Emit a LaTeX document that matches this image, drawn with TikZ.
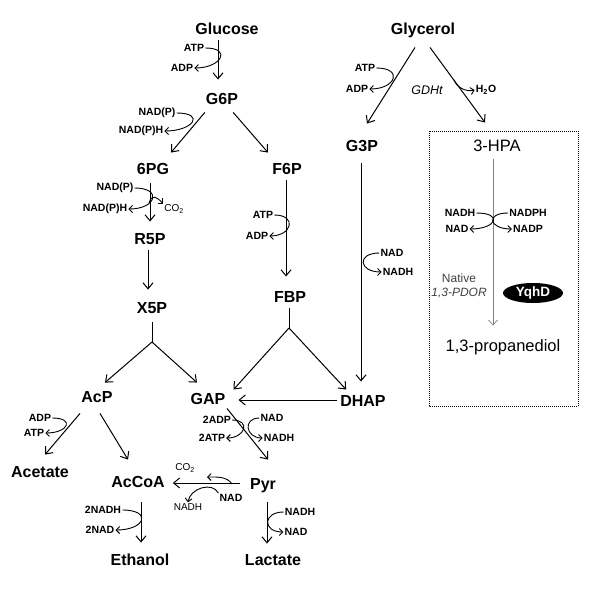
\documentclass[tikz,border=0pt]{standalone}
\usepackage{fontspec}
\setmainfont{Liberation Sans}
\usetikzlibrary{arrows.meta,shapes.geometric}
\def\metsize{\fontsize{16}{16}\selectfont}
\def\cofsize{\fontsize{10.5}{11}\selectfont}
\tikzset{
  met/.style={font=\metsize\bfseries, inner sep=1pt, text height=11.5pt, text depth=3pt},
  prod/.style={font=\fontsize{16.5}{17}\selectfont, inner sep=1pt, text height=11.5pt, text depth=3pt},
  cof/.style={font=\cofsize\bfseries, inner sep=1pt},
  cofreg/.style={font=\fontsize{10}{10}\selectfont, inner sep=1pt},
  flux/.style={-{Straight Barb[length=6pt,width=10pt]}, line width=1pt},
  trunk/.style={line width=1pt},
  side/.style={-{Straight Barb[length=3.5pt,width=7pt]}, line width=0.9pt},
}

\begin{document}
\begin{tikzpicture}[x=1pt,y=-1pt]
\useasboundingbox (0,0) rectangle (600,602);
\node [met] (glucose) at (227,30) {Glucose};
\node [met] (g6p) at (222,100) {G6P};
\node [met] (pg6) at (153,170) {6PG};
\node [met] (f6p) at (287,170) {F6P};
\node [met] (r5p) at (150,240) {R5P};
\node [met] (x5p) at (152,309) {X5P};
\node [met] (fbp) at (290,298) {FBP};
\node [met] (glycerol) at (423,30) {Glycerol};
\node [met] (g3p) at (362,147) {G3P};
\node [met] (gap) at (208,400) {GAP};
\node [met] (dhap) at (363,402) {DHAP};
\node [met] (acp) at (97,398) {AcP};
\node [met] (acetate) at (40,473) {Acetate};
\node [met] (accoa) at (138,483) {AcCoA};
\node [met] (pyr) at (263,485) {Pyr};
\node [met] (ethanol) at (140,561) {Ethanol};
\node [met] (lactate) at (273,561) {Lactate};
\node [prod] (hpa) at (497,147) {3-HPA};
\node [prod] (pdo) at (503,347) {1,3-propanediol};

\node [cof] (atp1) at (194,48) {ATP};
\node [cof] (adp1) at (182,68) {ADP};
\node [cof] (nadp1) at (157,113) {NAD(P)};
\node [cof] (nadph1) at (141,131) {NAD(P)H};
\node [cof] (nadp2) at (115,188) {NAD(P)};
\node [cof] (nadph2) at (105,209) {NAD(P)H};
\node [cofreg] (co2a) at (174,209) {CO\textsubscript{2}};
\node [cof] (atp2) at (263,215) {ATP};
\node [cof] (adp2) at (257,236) {ADP};
\node [cof] (atp3) at (365,68) {ATP};
\node [cof] (adp3) at (357,89) {ADP};
\node [font=\fontsize{12.5}{13}\selectfont\itshape] (gdht) at (427,90) {GDHt};
\node [cof] (h2o) at (486,90) {H\textsubscript{2}O};
\node [cof] (nad3) at (392,253) {NAD};
\node [cof] (nadh3) at (398,272) {NADH};
\node [cof] (nadh4) at (460,213) {NADH};
\node [cof] (nad4) at (457,229) {NAD};
\node [cof] (nadph4) at (528,213) {NADPH};
\node [cof] (nadp4) at (528,229) {NADP};
\node [font=\fontsize{12}{12}\selectfont, text=black!75] (native) at (459,278) {Native};
\node [font=\fontsize{12}{12}\selectfont\itshape, text=black!75] (pdor) at (459,293) {1,3-PDOR};
\node [ellipse, fill=black, text=white, font=\fontsize{13.5}{14}\selectfont\bfseries, minimum width=60pt, minimum height=20pt, inner sep=0pt] (yqhd) at (533,293) {YqhD};
\node [cof] (adp5) at (40,418) {ADP};
\node [cof] (atp5) at (34,433) {ATP};
\node [cof] (adp6) at (217,420) {2ADP};
\node [cof] (atp6) at (212,438) {2ATP};
\node [cof] (nad6) at (272,418) {NAD};
\node [cof] (nadh6) at (279,438) {NADH};
\node [cofreg] (co2b) at (185,468) {CO\textsubscript{2}};
\node [cof] (nad7) at (231,498) {NAD};
\node [cofreg] (nadh7) at (188,507) {NADH};
\node [cof] (nadh8) at (103,510) {2NADH};
\node [cof] (nad8) at (100,530) {2NAD};
\node [cof] (nadh9) at (300,512) {NADH};
\node [cof] (nad9) at (296,532) {NAD};

\coordinate (xsplit) at (152,342);
\coordinate (fsplit) at (289,328);
\coordinate (co2tail1) at (149,203);
\coordinate (h2otail) at (454,80);
\coordinate (co2tail2) at (232,484);
\coordinate (co2tip2) at (207,477);

\draw [densely dotted, line width=1pt] (429,131) rectangle (578,406);

\draw [flux] ([shift={(-9,2)}]glucose.south) -- ([shift={(-4,-12)}]g6p.north);
\draw [flux] ([shift={(0,4)}]g6p.south west) -- ([shift={(18,-9)}]pg6.north);
\draw [flux] ([shift={(-6,4)}]g6p.south east) -- ([shift={(-19,-9)}]f6p.north);
\draw [flux] ([shift={(-3,5)}]pg6.south) -- ([shift={(0,-10)}]r5p.north);
\draw [flux] ([shift={(-2,2)}]r5p.south) -- ([shift={(-4,-11)}]x5p.north);
\draw [trunk] ([shift={(0,5)}]x5p.south) -- (xsplit);
\draw [flux] (xsplit) -- ([shift={(8,-7)}]acp.north);
\draw [flux] (xsplit) -- ([shift={(-11,-9)}]gap.north);
\draw [flux] ([shift={(-1,2)}]f6p.south) -- ([shift={(-4,-13)}]fbp.north);
\draw [trunk] ([shift={(-1,2)}]fbp.south) -- (fsplit);
\draw [flux] (fsplit) -- ([shift={(7,-2)}]gap.north east);
\draw [flux] (fsplit) -- ([shift={(7,-4)}]dhap.north west);
\draw [flux] ([shift={(-8,9)}]glycerol.south) -- ([shift={(5,-15)}]g3p.north);
\draw [flux] ([shift={(7,9)}]glycerol.south) -- ([shift={(-12,-16)}]hpa.north);
\draw [flux] ([shift={(-1,8)}]g3p.south) -- ([shift={(-2,-12)}]dhap.north);
\draw [flux] ([shift={(-2,-2)}]dhap.west) -- ([shift={(12,0)}]gap.east);
\draw [flux] ([shift={(-17,7)}]acp.south) -- ([shift={(5,-10)}]acetate.north);
\draw [flux] ([shift={(3,7)}]acp.south) -- ([shift={(-10,-15)}]accoa.north);
\draw [flux] ([shift={(19,0)}]gap.south) -- ([shift={(5,-17)}]pyr.north);
\draw [flux] ([shift={(-9,-2)}]pyr.west) -- ([shift={(7,0)}]accoa.east);
\draw [flux] ([shift={(3,11)}]accoa.south) -- ([shift={(1,-10)}]ethanol.north);
\draw [flux] ([shift={(4,9)}]pyr.south) -- ([shift={(-6,-9)}]lactate.north);
\draw [-{Straight Barb[length=5pt,width=9pt]}, gray, line width=0.7pt] ([shift={(-4,4)}]hpa.south) -- ([shift={(-10,-13)}]pdo.north);

\draw [side] (atp1.east) .. controls +(27,0) and +(27,0) .. (adp1.east);
\draw [side] (nadp1.east) .. controls +(29,0) and +(29,0) .. (nadph1.east);
\draw [side] (nadp2.east) .. controls +(28,0) and +(28,0) .. (nadph2.east);
\draw [side] (co2tail1) .. controls +(3,-10) and +(-6,-6) .. (co2a.north west);
\draw [side] (atp2.east) .. controls +(23,0) and +(23,0) .. (adp2.east);
\draw [side] (atp3.east) .. controls +(27,0) and +(27,0) .. (adp3.east);
\draw [side] (h2otail) .. controls +(3,8) and +(-8,2) .. (h2o.west);
\draw [side] (nad3.west) .. controls +(-23,0) and +(-23,0) .. (nadh3.west);
\draw [side] (nadh4.east) .. controls +(27,0) and +(27,0) .. (nad4.east);
\draw [side] (nadph4.west) .. controls +(-23,0) and +(-23,0) .. (nadp4.west);
\draw [side] (adp5.east) .. controls +(23,0) and +(23,0) .. (atp5.east);
\draw [side] (adp6.east) .. controls +(19,0) and +(19,0) .. (atp6.east);
\draw [side] (nad6.west) .. controls +(-17,0) and +(-17,0) .. (nadh6.west);
\draw [side] (co2tail2) .. controls +(-5,-8) and +(8,0) .. (co2tip2);
\draw [side] (nad7.north west) .. controls +(-6,-12) and +(2,-14) .. (nadh7.north);
\draw [side] (nadh8.east) .. controls +(30,0) and +(30,0) .. (nad8.east);
\draw [side] (nadh9.west) .. controls +(-21,0) and +(-21,0) .. (nad9.west);
\end{tikzpicture}
\end{document}
